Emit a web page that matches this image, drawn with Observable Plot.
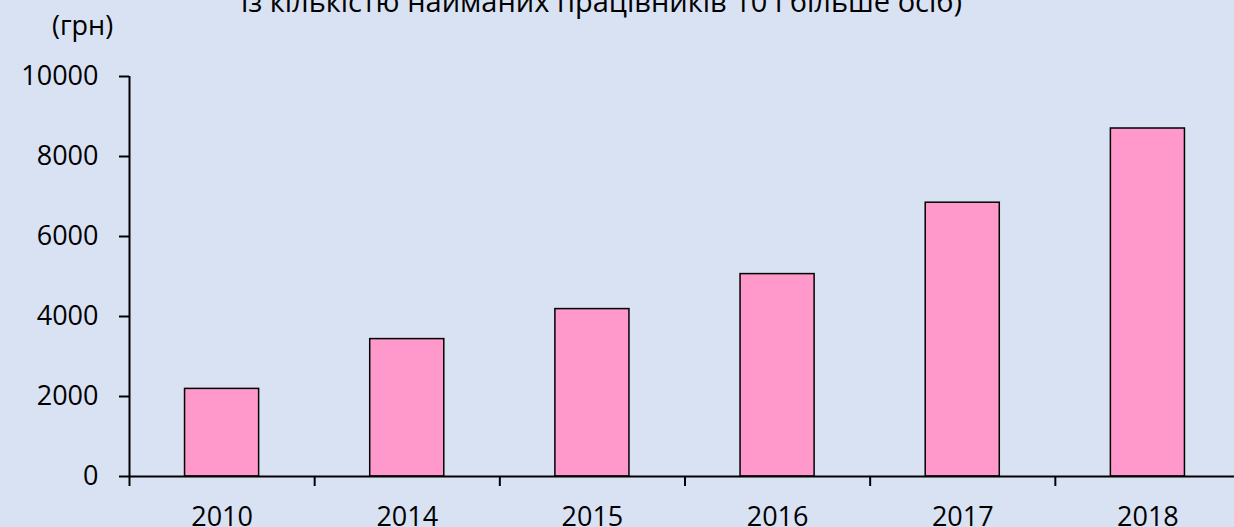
<!DOCTYPE html>
<html>
<head>
<meta charset="utf-8">
<script src="https://cdn.jsdelivr.net/npm/d3@7"></script>
<script src="https://cdn.jsdelivr.net/npm/@observablehq/plot@0.6"></script>
<style>
  html, body { margin: 0; padding: 0; background: #D9E2F3; }
  #wrap { position: relative; width: 1234px; height: 527px; overflow: hidden; background: #D9E2F3; font-family: "Open Sans", sans-serif; color: #000; }
  #title { position: absolute; left: 0; width: 1203px; top: -14px; text-align: center; font-size: 29px; line-height: 29px; white-space: nowrap; }
  #unit { position: absolute; left: 52px; top: 11px; font-size: 27px; line-height: 27px; white-space: nowrap; }
  #chart { position: absolute; left: 0; top: 0; width: 1234px; height: 527px; }
  #chart svg { max-width: none; }
  #chart svg text { font-family: "Open Sans", sans-serif !important; font-size: 27px !important; fill: #000; }
</style>
</head>
<body>
<div id="wrap">
  <div id="chart"></div>
  <div id="title">із кількістю найманих працівників 10 і більше осіб)</div>
  <div id="unit">(грн)</div>
</div>
<script>
const years = ["2010", "2014", "2015", "2016", "2017", "2018"];
const wages = [2190, 3435, 4185, 5060, 6845, 8700];
const yTicks = [0, 2000, 4000, 6000, 8000, 10000];

const data = years.map((year, i) => ({ year, i, wage: wages[i] }));
const boundaries = d3.range(years.length + 1);
const centers = data.map(d => d.i + 0.5);

const chart = Plot.plot({
  width: 1234,
  height: 527,
  marginLeft: 129,
  marginRight: 0,
  marginTop: 76,
  marginBottom: 51,
  style: { background: "transparent", fontFamily: "Open Sans", fontSize: "27px", color: "#000", overflow: "visible" },
  x: { type: "linear", domain: [0, years.length], range: [129, 1240] },
  y: { domain: [0, 10000] },
  marks: [
    Plot.rectY(data, {
      x1: d => d.i + 0.3,
      x2: d => d.i + 0.7,
      y: "wage",
      fill: "#FF99CC",
      stroke: "#000",
      strokeWidth: 1.5
    }),
    Plot.ruleX([0], { stroke: "#000", strokeWidth: 2 }),
    Plot.ruleY([0], { stroke: "#000", strokeWidth: 2 }),
    Plot.axisY(yTicks, { tickSize: 10, tickPadding: 21, strokeWidth: 2, fontSize: 27, tickFormat: d => String(d), label: null }),
    Plot.axisX(boundaries, { tickSize: 10, strokeWidth: 2, tickFormat: () => "", label: null }),
    Plot.axisX(centers, { tickSize: 0, tickPadding: 30, fontSize: 27, tickFormat: d => years[Math.round(d - 0.5)], label: null })
  ]
});
document.getElementById("chart").appendChild(chart);
</script>
</body>
</html>
